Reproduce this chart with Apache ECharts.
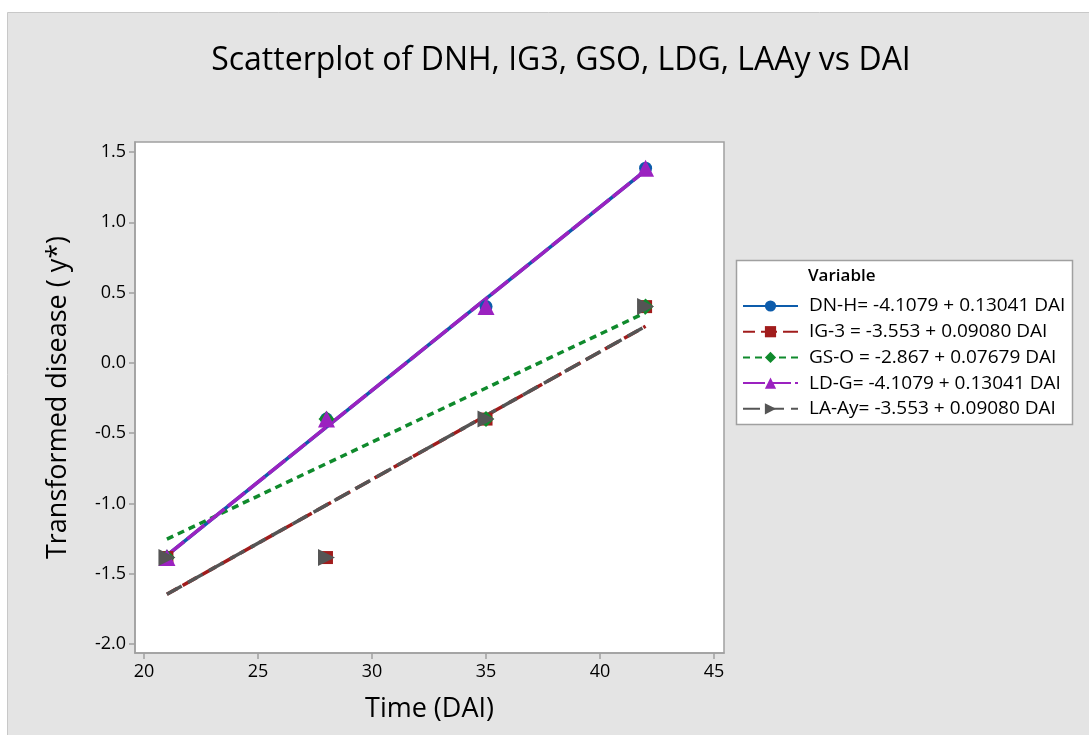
<!DOCTYPE html>
<html>
<head>
<meta charset="utf-8">
<script src="https://cdn.jsdelivr.net/npm/echarts@6/dist/echarts.min.js"></script>
<style>
html, body { margin: 0; padding: 0; background: #fff; }
#main { width: 1089px; height: 735px; }
</style>
</head>
<body>
<div id="main"></div>
<script>
// observed points
var days = [21, 28, 35, 42];
var dnh = [-1.385, -0.40, 0.40, 1.385];
var ig3 = [-1.385, -1.385, -0.40, 0.40];
var gso = [-1.385, -0.40, -0.40, 0.40];
var ldg = [-1.385, -0.40, 0.40, 1.385];
var laay = [-1.385, -1.385, -0.40, 0.40];

// fitted line end points (at 21 and 42 DAI)
var fitDays = [21, 42];
var dnhFit = [-1.369, 1.369];
var ig3Fit = [-1.646, 0.260];
var gsoFit = [-1.254, 0.358];
var ldgFit = [-1.369, 1.369];
var laayFit = [-1.646, 0.260];

var names = [
	'DN-H= -4.1079 + 0.13041 DAI',
	'IG-3 = -3.553 + 0.09080 DAI',
	'GS-O = -2.867 + 0.07679 DAI',
	'LD-G= -4.1079 + 0.13041 DAI',
	'LA-Ay= -3.553 + 0.09080 DAI'
];
var xTicks = [20, 25, 30, 35, 40, 45];
var yTicks = [-2.0, -1.5, -1.0, -0.5, 0.0, 0.5, 1.0, 1.5];

var colors = ['#0d5cab', '#a11c1c', '#0f8a2c', '#9b22c0', '#555555'];
var symbols = ['circle', 'rect', 'diamond', 'triangle', 'triangle'];
var symbolRot = [0, 0, 0, 0, -90];
var markSize = [13, 13, 16, 17, 17];
var dashes = ['solid', [16, 6], [7, 5], [22, 4], [17, 7]];
var dashOff = [0, 4, 0, 0, 0];

function pairs(xs, ys) {
	var out = [];
	for (var i = 0; i < xs.length; i++) {
		out.push([xs[i], ys[i]]);
	}
	return out;
}

var fits = [dnhFit, ig3Fit, gsoFit, ldgFit, laayFit];
var pts = [dnh, ig3, gso, ldg, laay];
var font = '"Open Sans", "Noto Sans", sans-serif';

var series = [];
for (var i = 0; i < 5; i++) {
	series.push({
		name : names[i],
		type : 'line',
		data : pairs(fitDays, fits[i]),
		symbol : symbols[i],
		symbolRotate : symbolRot[i],
		symbolSize : markSize[i] - 1,
		showSymbol : false,
		z : 2 + i,
		silent : true,
		lineStyle : {
			color : colors[i],
			width : 3.5,
			type : dashes[i],
			dashOffset : dashOff[i]
		},
		itemStyle : {
			color : colors[i]
		}
	});
}
for (var i = 0; i < 5; i++) {
	series.push({
		name : names[i],
		type : 'scatter',
		data : pairs(days, pts[i]),
		symbol : symbols[i],
		symbolRotate : symbolRot[i],
		symbolSize : markSize[i],
		z : 10 + i,
		silent : true,
		itemStyle : {
			color : colors[i],
			opacity : 1
		}
	});
}

var myChart = echarts.init(document.getElementById('main'));
var option = {
	backgroundColor : '#ffffff',
	animation : false,
	textStyle : {
		fontFamily : font
	},
	graphic : [ {
		type : 'rect',
		z : -10,
		shape : { x : 7.5, y : 12.5, width : 1100, height : 740 },
		style : { fill : '#e4e4e4', stroke : '#c8c8c8', lineWidth : 1 }
	}, {
		type : 'rect',
		z : -5,
		shape : { x : 736.5, y : 260.5, width : 336, height : 164 },
		style : { fill : '#ffffff', stroke : '#a0a0a0', lineWidth : 1.5 }
	}, {
		type : 'text',
		z : 100,
		left : 808,
		top : 268,
		style : {
			text : 'Variable',
			font : '600 17px ' + font,
			fill : '#000'
		}
	} ],
	title : {
		text : 'Scatterplot of DNH, IG3, GSO, LDG, LAAy vs DAI',
		left : 556,
		textAlign : 'center',
		top : 40,
		textStyle : {
			fontFamily : font,
			fontSize : 32,
			fontWeight : 500,
			color : '#000'
		}
	},
	legend : {
		orient : 'vertical',
		left : 742,
		top : 296,
		selectedMode : false,
		itemWidth : 55,
		itemHeight : 14,
		itemGap : 5.7,
		data : names,
		padding : [0, 0, 0, 0],
		textStyle : {
			fontFamily : font,
			fontSize : 19,
			fontWeight : 500,
			lineHeight : 20,
			color : '#000',
			padding : [0, 0, 0, 6]
		}
	},
	grid : {
		left : 135,
		top : 142,
		right : 365,
		bottom : 82,
		show : true,
		backgroundColor : '#ffffff',
		borderColor : '#a0a0a0',
		borderWidth : 1.5
	},
	xAxis : {
		type : 'value',
		min : 19.6,
		max : 45.44,
		name : 'Time (DAI)',
		nameLocation : 'middle',
		nameGap : 43,
		nameTextStyle : {
			fontFamily : font,
			fontSize : 27,
			fontWeight : 500,
			color : '#000'
		},
		axisLine : { show : true, onZero : false, lineStyle : { color : '#a0a0a0', width : 1.5 } },
		axisTick : { show : true, customValues : xTicks, length : 6, lineStyle : { color : '#a0a0a0', width : 1.5 } },
		axisLabel : {
			customValues : xTicks,
			margin : 10,
			fontSize : 18,
			fontWeight : 500,
			color : '#000',
			fontFamily : font
		},
		splitLine : { show : false }
	},
	yAxis : {
		type : 'value',
		min : -2.064,
		max : 1.571,
		name : 'Transformed disease ( y*)',
		nameLocation : 'middle',
		nameGap : 63,
		nameTextStyle : {
			fontFamily : font,
			fontSize : 27,
			fontWeight : 500,
			color : '#000'
		},
		axisLine : { show : true, onZero : false, lineStyle : { color : '#a0a0a0', width : 1.5 } },
		axisTick : { show : true, customValues : yTicks, length : 6, lineStyle : { color : '#a0a0a0', width : 1.5 } },
		axisLabel : {
			customValues : yTicks,
			margin : 9,
			fontSize : 18,
			fontWeight : 500,
			color : '#000',
			fontFamily : font,
			formatter : function (v) {
				return v.toFixed(1);
			}
		},
		splitLine : { show : false }
	},
	series : series
};
myChart.setOption(option);
</script>
</body>
</html>
